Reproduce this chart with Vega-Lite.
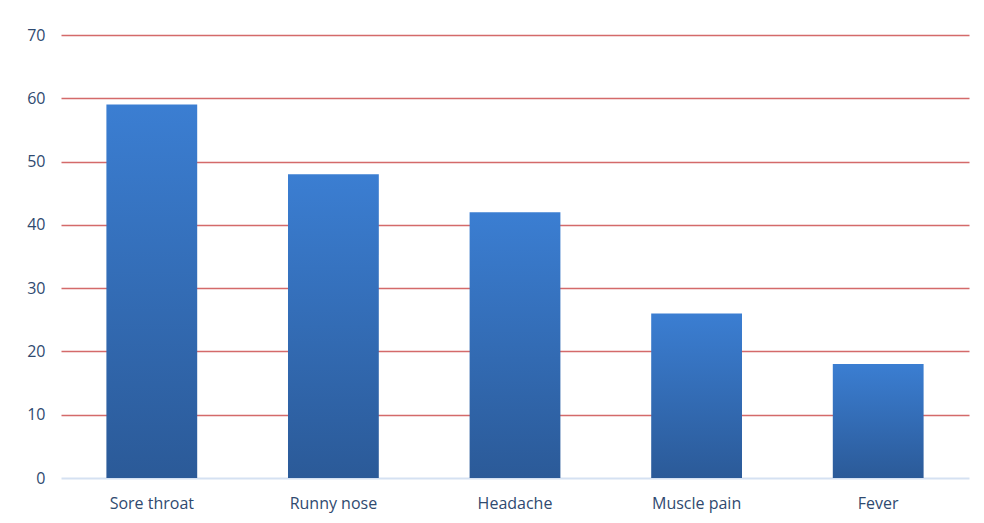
{
  "$schema": "https://vega.github.io/schema/vega-lite/v6.json",
  "width": 908,
  "height": 443,
  "autosize": {"type": "none"},
  "padding": {"left": 61, "top": 35, "right": 15, "bottom": 45},
  "background": "#ffffff",
  "config": {
    "view": {"stroke": null},
    "font": "Open Sans"
  },
  "data": {
    "values": [
      {"symptom": "Sore throat", "count": 59},
      {"symptom": "Runny nose", "count": 48},
      {"symptom": "Headache", "count": 42},
      {"symptom": "Muscle pain", "count": 26},
      {"symptom": "Fever", "count": 18}
    ]
  },
  "mark": {
    "type": "bar",
    "color": {
      "gradient": "linear",
      "x1": 0, "y1": 0, "x2": 0, "y2": 1,
      "stops": [
        {"offset": 0, "color": "#3b7ed2"},
        {"offset": 1, "color": "#2b5a98"}
      ]
    }
  },
  "encoding": {
    "x": {
      "field": "symptom",
      "type": "nominal",
      "sort": null,
      "scale": {"paddingInner": 0.5, "paddingOuter": 0.25},
      "axis": {
        "title": null,
        "labelAngle": 0,
        "labelFontSize": 16,
        "labelColor": "#2f4a70",
        "labelPadding": 17,
        "ticks": false,
        "domainColor": "#d5e1f2",
        "domainWidth": 2
      }
    },
    "y": {
      "field": "count",
      "type": "quantitative",
      "scale": {"domain": [0, 70]},
      "axis": {
        "title": null,
        "values": [0, 10, 20, 30, 40, 50, 60, 70],
        "labelFontSize": 16,
        "labelColor": "#2f4a70",
        "labelPadding": 16,
        "ticks": false,
        "domain": false,
        "gridColor": {"condition": {"test": "datum.value === 0", "value": "transparent"}, "value": "#d46a6a"},
        "gridWidth": 1.5
      }
    }
  }
}
